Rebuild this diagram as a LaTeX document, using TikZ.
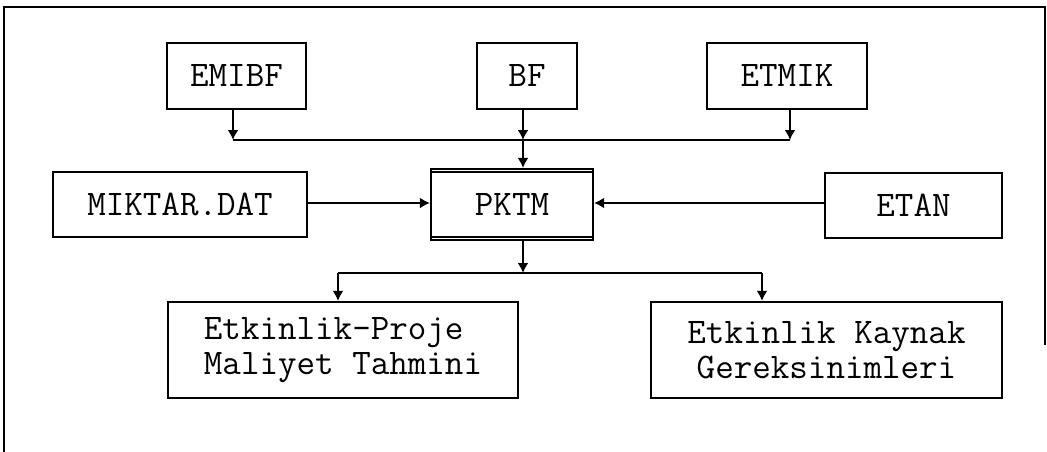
\documentclass[tikz,border=0pt]{standalone}
\usepackage{fontspec}
\usetikzlibrary{arrows.meta}
\tikzset{
  box/.style={draw, line width=2.2pt, inner sep=0pt, font=\ttfamily\fontsize{36}{35}\selectfont},
  arr/.style={line width=2pt, -{Latex[length=10pt,width=11pt]}},
  conn/.style={line width=2pt},
  frame/.style={line width=2pt}
}
\begin{document}
\begin{tikzpicture}[x=1pt,y=-1pt]
\useasboundingbox (0,0) rectangle (1047,452);
% frame
\draw[frame] (4,452) -- (4,7) -- (1045,7) -- (1045,345);
% boxes
\node[box, minimum width=139pt, minimum height=66pt] (emibf) at (236.5,76) {EMIBF};
\node[box, minimum width=100pt, minimum height=66pt] (bf) at (527,76) {BF};
\node[box, minimum width=160pt, minimum height=66pt] (etmik) at (787,76) {ETMIK};
\node[box, minimum width=254pt, minimum height=65pt] (miktar) at (180,204.5) {MIKTAR.DAT};
\node[box, minimum width=162pt, minimum height=71pt] (pktm) at (512,204.5) {PKTM};
\node[box, minimum width=177pt, minimum height=65pt] (etan) at (913.5,205.5) {ETAN};
\node[box, minimum width=350pt, minimum height=96pt, align=left] (out1) at (343,350) {Etkinlik-Proje\\Maliyet Tahmini};
\node[box, minimum width=351pt, minimum height=96pt, align=center] (out2) at (826.5,350) {Etkinlik Kaynak\\Gereksinimleri};
% double lines of PKTM
\draw[line width=1.6pt] ([yshift=-4pt]pktm.north west) -- ([yshift=-4pt]pktm.north east);
\draw[line width=1.6pt] ([yshift=4pt]pktm.south west) -- ([yshift=4pt]pktm.south east);
% top bus
\coordinate (b1) at (233,140);
\coordinate (b2) at (523,140);
\coordinate (b3) at (790,140);
\draw[conn] (b1) -- (b3);
\draw[arr] (emibf.south -| b1) -- (b1);
\draw[arr] (etmik.south -| b3) -- (b3);
\draw[arr] (bf.south -| b2) -- (b2);
\draw[arr] (b2) -- (pktm.north -| b2);
% side inputs
\coordinate (m) at (0,203);
\draw[arr] (miktar.east |- m) -- (pktm.west |- m);
\draw[arr] (etan.west |- m) -- (pktm.east |- m);
% bottom bus
\coordinate (c0) at (523,273);
\coordinate (c1) at (338,273);
\coordinate (c2) at (762,273);
\draw[arr] (pktm.south -| c0) -- (c0);
\draw[conn] (c1) -- (c2);
\draw[arr] (c1) -- (out1.north -| c1);
\draw[arr] (c2) -- (out2.north -| c2);
\end{tikzpicture}
\end{document}
